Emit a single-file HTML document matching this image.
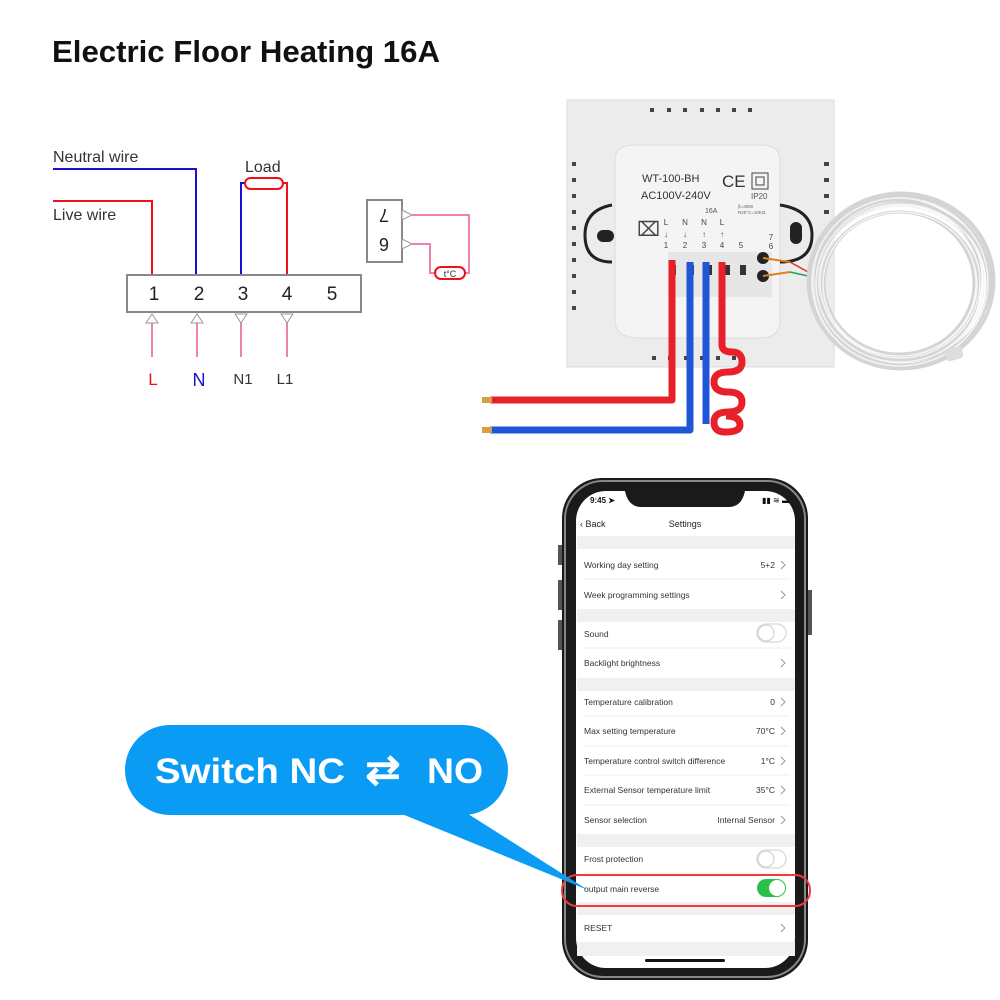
<!DOCTYPE html>
<html><head><meta charset="utf-8"><style>
html,body{margin:0;padding:0;background:#fff;}
svg{display:block;font-family:"Liberation Sans",sans-serif;}
</style></head><body>
<svg width="1000" height="1000" viewBox="0 0 1000 1000" xmlns="http://www.w3.org/2000/svg">
<rect width="1000" height="1000" fill="#fff"/>
<text x="52" y="62" font-size="31" font-weight="bold" fill="#111" textLength="388" lengthAdjust="spacingAndGlyphs">Electric Floor Heating 16A</text>

<!-- wiring diagram -->
<text x="53" y="162" font-size="16" fill="#333">Neutral wire</text>
<text x="53" y="220" font-size="16" fill="#333">Live wire</text>
<text x="245" y="172" font-size="16" fill="#333">Load</text>
<polyline points="53,169 196,169 196,275" fill="none" stroke="#1a10d0" stroke-width="2"/>
<polyline points="53,201 152,201 152,275" fill="none" stroke="#f0101a" stroke-width="2"/>
<polyline points="241,275 241,183 245,183" fill="none" stroke="#1a10d0" stroke-width="2"/>
<polyline points="283,183 287,183 287,275" fill="none" stroke="#f0101a" stroke-width="2"/>
<rect x="245" y="178" width="38" height="11" rx="5.5" fill="#fff" stroke="#f0101a" stroke-width="2"/>
<rect x="127" y="275" width="234" height="37" fill="#fff" stroke="#888" stroke-width="2"/>
<g font-size="19" fill="#222" text-anchor="middle">
<text x="154" y="300">1</text><text x="199" y="300">2</text><text x="243" y="300">3</text><text x="287" y="300">4</text><text x="332" y="300">5</text>
</g>
<g stroke="#f080b0" stroke-width="2">
<line x1="152" y1="323" x2="152" y2="357"/><line x1="197" y1="323" x2="197" y2="357"/>
<line x1="241" y1="323" x2="241" y2="357"/><line x1="287" y1="323" x2="287" y2="357"/>
</g>
<g fill="#fff" stroke="#999" stroke-width="1">
<polygon points="146,323 152,314 158,323"/><polygon points="191,323 197,314 203,323"/>
<polygon points="235,314 241,323 247,314"/><polygon points="281,314 287,323 293,314"/>
</g>
<text x="153" y="385" font-size="17" fill="#f0101a" text-anchor="middle">L</text>
<text x="199" y="386" font-size="18" fill="#1a10d0" text-anchor="middle">N</text>
<text x="243" y="384" font-size="15" fill="#333" text-anchor="middle">N1</text>
<text x="285" y="384" font-size="15" fill="#333" text-anchor="middle">L1</text>

<rect x="367" y="200" width="35" height="62" fill="#fff" stroke="#888" stroke-width="2"/>
<text x="384" y="215" font-size="18" fill="#222" text-anchor="middle" transform="rotate(180 384 215)" dy="6">7</text>
<text x="384" y="244" font-size="18" fill="#222" text-anchor="middle" transform="rotate(180 384 244)" dy="6">6</text>
<polyline points="412,215 469,215 469,273 465,273" fill="none" stroke="#f080b0" stroke-width="2"/>
<polyline points="412,244 430,244 430,273 435,273" fill="none" stroke="#f080b0" stroke-width="2"/>
<polygon points="402,210 412,215 402,220" fill="#fff" stroke="#999"/>
<polygon points="402,239 412,244 402,249" fill="#fff" stroke="#999"/>
<rect x="435" y="267" width="30" height="12" rx="6" fill="#fff" stroke="#f0101a" stroke-width="2"/>
<text x="450" y="277" font-size="9" fill="#333" text-anchor="middle">t°C</text>

<!-- thermostat plate -->
<rect x="567" y="100" width="267" height="267" fill="#ececec"/>
<rect x="567" y="100" width="267" height="267" fill="none" stroke="#ddd"/>
<g fill="#444">
<rect x="650" y="108" width="4" height="4"/><rect x="667" y="108" width="4" height="4"/><rect x="683" y="108" width="4" height="4"/><rect x="700" y="108" width="4" height="4"/><rect x="716" y="108" width="4" height="4"/><rect x="732" y="108" width="4" height="4"/><rect x="748" y="108" width="4" height="4"/>
<rect x="572" y="162" width="4" height="4"/><rect x="572" y="178" width="4" height="4"/><rect x="572" y="194" width="4" height="4"/><rect x="572" y="210" width="4" height="4"/><rect x="572" y="226" width="4" height="4"/><rect x="572" y="242" width="4" height="4"/><rect x="572" y="258" width="4" height="4"/><rect x="572" y="274" width="4" height="4"/><rect x="572" y="290" width="4" height="4"/><rect x="572" y="306" width="4" height="4"/>
<rect x="824" y="162" width="5" height="4"/><rect x="824" y="178" width="5" height="4"/><rect x="824" y="194" width="5" height="4"/><rect x="824" y="210" width="5" height="4"/>
<rect x="652" y="356" width="4" height="4"/><rect x="668" y="356" width="4" height="4"/><rect x="684" y="356" width="4" height="4"/><rect x="700" y="356" width="4" height="4"/><rect x="716" y="356" width="4" height="4"/><rect x="732" y="356" width="4" height="4"/>
</g>
<path d="M615,160 Q615,145 635,145 L760,145 Q780,145 780,160 L780,320 Q780,338 760,338 L640,338 Q615,338 615,320 Z" fill="#f4f4f4" stroke="#ddd"/>
<path d="M612,205 Q585,210 585,235 Q585,262 612,262" fill="none" stroke="#222" stroke-width="3"/>
<rect x="597" y="230" width="17" height="12" rx="6" fill="#222"/>
<path d="M780,205 Q812,210 812,235 Q812,262 780,262" fill="none" stroke="#222" stroke-width="3"/>
<rect x="790" y="222" width="12" height="22" rx="6" fill="#222"/>
<text x="642" y="182" font-size="11" fill="#333">WT-100-BH</text>
<text x="641" y="199" font-size="11" fill="#333">AC100V-240V</text>
<text x="722" y="187" font-size="17" fill="#333">CE</text>
<rect x="752" y="173" width="16" height="16" fill="none" stroke="#444"/><rect x="756" y="177" width="8" height="8" fill="none" stroke="#444"/>
<text x="751" y="199" font-size="8" fill="#555">IP20</text>
<text x="705" y="213" font-size="7" fill="#555">16A</text>
<text x="738" y="208" font-size="4.5" fill="#666">β=3950</text>
<text x="738" y="214" font-size="4.5" fill="#666">R25°C=10KΩ</text>
<g font-size="8" fill="#444" text-anchor="middle">
<text x="666" y="225">L</text><text x="685" y="225">N</text><text x="704" y="225">N</text><text x="722" y="225">L</text>
<text x="666" y="237">↓</text><text x="685" y="237">↓</text><text x="704" y="237">↑</text><text x="722" y="237">↑</text>
<text x="666" y="248">1</text><text x="685" y="248">2</text><text x="704" y="248">3</text><text x="722" y="248">4</text><text x="741" y="248">5</text>
<text x="771" y="240">7</text><text x="771" y="249">6</text>
</g>
<text x="637" y="236" font-size="20" fill="#444">⌧</text>
<rect x="668" y="252" width="104" height="45" fill="#e6e6e6"/>
<g fill="#333"><rect x="670" y="265" width="6" height="10"/><rect x="688" y="265" width="6" height="10"/><rect x="706" y="265" width="6" height="10"/><rect x="724" y="265" width="6" height="10"/><rect x="740" y="265" width="6" height="10"/></g>
<circle cx="763" cy="258" r="6" fill="#222"/><circle cx="763" cy="276" r="6" fill="#222"/>
<line x1="763" y1="258" x2="790" y2="262" stroke="#e08020" stroke-width="2"/><line x1="763" y1="276" x2="790" y2="272" stroke="#e08020" stroke-width="2"/>
<line x1="790" y1="262" x2="808" y2="272" stroke="#e03020" stroke-width="1.5"/><line x1="790" y1="272" x2="808" y2="276" stroke="#20a050" stroke-width="1.5"/>
<!-- cable coil -->
<g fill="none" stroke="#d4d4d4" stroke-width="3">
<ellipse cx="900" cy="282" rx="90" ry="86"/><ellipse cx="902" cy="284" rx="86" ry="81"/><ellipse cx="898" cy="279" rx="82" ry="79"/><ellipse cx="900" cy="286" rx="79" ry="74"/><ellipse cx="904" cy="278" rx="88" ry="83"/><ellipse cx="899" cy="283" rx="75" ry="71"/><ellipse cx="901" cy="281" rx="93" ry="88"/>
</g>
<g fill="none" stroke="#f4f4f4" stroke-width="1.5">
<ellipse cx="900" cy="282" rx="88" ry="84"/><ellipse cx="900" cy="283" rx="84" ry="79"/><ellipse cx="900" cy="282" rx="80" ry="76"/><ellipse cx="900" cy="284" rx="77" ry="72"/>
</g>
<path d="M1000,300" />
<rect x="945" y="348" width="18" height="12" rx="4" fill="#ddd" transform="rotate(-15 954 354)"/>
<!-- floor wires -->
<g fill="none" stroke-linejoin="round">
<polyline points="672,260 672,400 490,400" stroke="#e8202a" stroke-width="7"/>
<polyline points="690,262 690,430 490,430" stroke="#1f55d6" stroke-width="7"/>
<polyline points="706,262 706,424" stroke="#1f55d6" stroke-width="7"/>
<path d="M722,262 L722,345 Q722,352 732,352 Q742,352 742,362 Q742,372 728,372 Q714,372 714,382 Q714,392 728,392 Q742,392 742,402 Q742,412 728,412 Q714,412 714,422 Q714,432 725,432 Q740,432 740,425 Q740,416 726,416" stroke="#e8202a" stroke-width="7"/>
</g>
<rect x="482" y="397" width="10" height="6" fill="#d8a040"/><rect x="482" y="427" width="10" height="6" fill="#d8a040"/>

<!-- phone -->
<rect x="562" y="478" width="246" height="502" rx="40" fill="#1a1a1a"/>
<rect x="565" y="481" width="240" height="496" rx="38" fill="none" stroke="#888" stroke-width="2"/>
<rect x="558" y="545" width="4" height="20" fill="#555"/><rect x="558" y="580" width="4" height="30" fill="#555"/><rect x="558" y="620" width="4" height="30" fill="#555"/><rect x="808" y="590" width="4" height="45" fill="#555"/>
<rect x="576" y="491" width="219" height="477" rx="30" fill="#fff"/>
<path d="M625,491 L745,491 Q742,506 730,507 L640,507 Q628,506 625,491 Z" fill="#1a1a1a"/>
<text x="590" y="503" font-size="8" font-weight="bold" fill="#111">9:45 ➤</text>
<text x="762" y="503" font-size="8" fill="#111">▮▮ ≋ ▬</text>
<text x="580" y="527" font-size="9" fill="#222">‹ Back</text>
<text x="685" y="527" font-size="9" fill="#222" text-anchor="middle">Settings</text>
<g fill="#f0f0f0">
<rect x="577" y="536" width="218" height="13"/><rect x="577" y="609" width="218" height="13"/><rect x="577" y="678" width="218" height="13"/><rect x="577" y="834" width="218" height="13"/><rect x="577" y="902" width="218" height="13"/><rect x="577" y="942" width="218" height="14"/>
</g>
<g stroke="#eee"><line x1="584" y1="579" x2="790" y2="579"/><line x1="584" y1="648" x2="790" y2="648"/><line x1="584" y1="716" x2="790" y2="716"/><line x1="584" y1="746" x2="790" y2="746"/><line x1="584" y1="775" x2="790" y2="775"/><line x1="584" y1="805" x2="790" y2="805"/><line x1="584" y1="873" x2="790" y2="873"/></g>
<g font-size="8.5" fill="#333">
<text x="584" y="568">Working day setting</text>
<text x="584" y="598">Week programming settings</text>
<text x="584" y="637">Sound</text>
<text x="584" y="666">Backlight brightness</text>
<text x="584" y="705">Temperature calibration</text>
<text x="584" y="734">Max setting temperature</text>
<text x="584" y="764">Temperature control switch difference</text>
<text x="584" y="793">External Sensor temperature limit</text>
<text x="584" y="823">Sensor selection</text>
<text x="584" y="862">Frost protection</text>
<text x="584" y="892">output main reverse</text>
<text x="584" y="931">RESET</text>
</g>
<g font-size="8.5" fill="#333" text-anchor="end">
<text x="775" y="568">5+2</text><text x="775" y="705">0</text><text x="775" y="734">70°C</text><text x="775" y="764">1°C</text><text x="775" y="793">35°C</text><text x="775" y="823">Internal Sensor</text>
</g>
<g fill="none" stroke="#999" stroke-width="1"><polyline points="781,561 785,565 781,569"/><polyline points="781,591 785,595 781,599"/><polyline points="781,659 785,663 781,667"/><polyline points="781,698 785,702 781,706"/><polyline points="781,727 785,731 781,735"/><polyline points="781,757 785,761 781,765"/><polyline points="781,786 785,790 781,794"/><polyline points="781,816 785,820 781,824"/><polyline points="781,924 785,928 781,932"/></g>
<rect x="757" y="624" width="29" height="18" rx="9" fill="#fff" stroke="#ddd" stroke-width="1.5"/><circle cx="766" cy="633" r="8" fill="#fff" stroke="#ccc"/>
<rect x="757" y="850" width="29" height="18" rx="9" fill="#fff" stroke="#ddd" stroke-width="1.5"/><circle cx="766" cy="859" r="8" fill="#fff" stroke="#ccc"/>
<rect x="757" y="879" width="29" height="18" rx="9" fill="#2bc04a"/><circle cx="777" cy="888" r="8" fill="#fff"/>
<rect x="562" y="875" width="248" height="31" rx="15" fill="none" stroke="#f03a40" stroke-width="2"/>
<rect x="645" y="959" width="80" height="3" rx="1.5" fill="#111"/>

<!-- bubble -->
<polygon points="397,812 465,812 588,890" fill="#0a9cf5"/>
<rect x="125" y="725" width="383" height="90" rx="45" fill="#0a9cf5"/>
<text x="155" y="783" font-size="35" font-weight="bold" fill="#fff" textLength="190" lengthAdjust="spacingAndGlyphs">Switch NC</text>
<text x="383" y="784" font-size="42" font-weight="bold" fill="#fff" text-anchor="middle">⇄</text>
<text x="427" y="783" font-size="35" font-weight="bold" fill="#fff" textLength="56" lengthAdjust="spacingAndGlyphs">NO</text>
</svg>
</body></html>
